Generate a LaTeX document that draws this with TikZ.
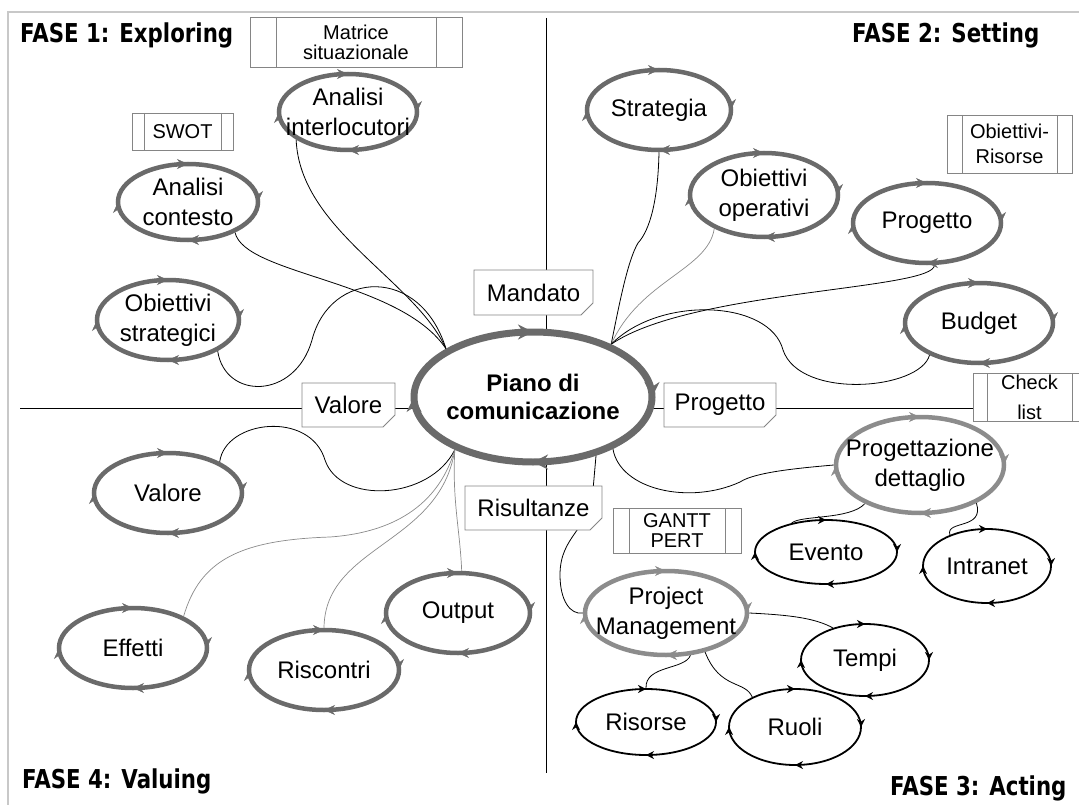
\documentclass[tikz,border=0pt]{standalone}
\usepackage{fontspec}
\setmainfont{Liberation Sans}
\newfontfamily\fasefont[FakeStretch=0.82]{DejaVu Sans}
\usetikzlibrary{shapes.geometric,shapes.misc,decorations.markings,arrows.meta,backgrounds}
\definecolor{ringgray}{HTML}{6A6A6A}
\definecolor{ringlight}{HTML}{8C8C8C}
\definecolor{linkgray}{HTML}{8A8A8A}
\definecolor{boxgray}{HTML}{858585}
\definecolor{framegray}{HTML}{C8C8C8}
\newcommand\lblfont{\fontsize{24}{30}\selectfont}
\newcommand\boxfont{\fontsize{20}{20}\selectfont}
\newcommand\fasesize{\fasefont\bfseries\fontsize{26}{28}\selectfont}
\begin{document}
\begin{tikzpicture}[x=1pt,y=-1pt,
    ringmarks/.style={postaction={decorate,decoration={markings,
        mark=at position 0 with {\arrowreversed{#1}},
        mark=at position 0.25 with {\arrowreversed{#1}},
        mark=at position 0.5 with {\arrowreversed{#1}},
        mark=at position 0.75 with {\arrowreversed{#1}}}}},
    dims/.style args={#1x#2}{minimum width=#1pt,minimum height=#2pt},
    ringbase/.style={ellipse,fill=white,inner sep=0pt},
    ring/.style={ringbase,draw=ringgray,line width=4.5pt,
        ringmarks={Stealth[length=11pt,width=10pt,line width=0.5pt]}},
    lightring/.style={ringbase,draw=ringlight,line width=4.5pt,
        ringmarks={Stealth[length=11pt,width=10pt,line width=0.5pt]}},
    thinring/.style={ringbase,draw=black,line width=1.8pt,
        ringmarks={Stealth[length=8pt,width=8pt,line width=0.5pt]}},
    mainring/.style={ringbase,draw=ringgray,line width=7pt,
        ringmarks={Stealth[length=15pt,width=15pt,line width=0.5pt]}},
    every label/.style={font=\lblfont,align=center,inner sep=0pt},
    notebox/.style={chamfered rectangle,chamfered rectangle corners=south east,
        chamfered rectangle sep=6pt,draw=boxgray,fill=white,line width=0.8pt,
        inner sep=0pt,font=\lblfont},
    procbox/.style={rectangle,draw=boxgray,fill=white,line width=0.8pt,inner sep=0pt,
        font=\boxfont,align=center,
        path picture={\draw[boxgray,line width=0.8pt]
          ([xshift=#1]path picture bounding box.north west) -- ([xshift=#1]path picture bounding box.south west)
          ([xshift=-#1]path picture bounding box.north east) -- ([xshift=-#1]path picture bounding box.south east);}},
    procbox/.default=14pt,
    link/.style={line width=0.8pt},
    greylink/.style={draw=linkgray,line width=0.7pt},
    fase/.style={font=\fasesize,anchor=base west,inner sep=0pt}]
  \useasboundingbox (0,0) rectangle (1079,805);

  \node[fase] (fase1) at (20,43) {FASE 1: Exploring};
  \node[fase] (fase2) at (852,43) {FASE 2: Setting};
  \node[fase] (fase3) at (890,795) {FASE 3: Acting};
  \node[fase] (fase4) at (22,788) {FASE 4: Valuing};

  \node[mainring,dims=238x130,
    label={[font=\fontsize{24}{28}\selectfont\bfseries]center:Piano di\\comunicazione}] (piano) at (533,397) {};

  \node[ring,dims=138x76,label={center:Analisi\\interlocutori}] (interloc) at (348,112) {};
  \node[ring,dims=140x76,label={center:Analisi\\contesto}] (contesto) at (188,202) {};
  \node[ring,dims=142x80,label={center:Obiettivi\\strategici}] (strategici) at (168,320) {};
  \node[ring,dims=144x80,label={center:Strategia}] (strategia) at (659,110) {};
  \node[ring,dims=148x84,label={center:Obiettivi\\operativi}] (operativi) at (764,195) {};
  \node[ring,dims=148x80,label={center:Progetto}] (progetto) at (927,223) {};
  \node[ring,dims=148x80,label={center:Budget}] (budget) at (979,323) {};
  \node[ring,dims=148x80,label={center:Valore}] (valore) at (168,493) {};
  \node[ring,dims=148x80,label={center:Effetti}] (effetti) at (133,648) {};
  \node[ring,dims=150x80,label={center:Riscontri}] (riscontri) at (324,670) {};
  \node[ring,dims=144x80,label={center:Output}] (output) at (458,613) {};
  \node[lightring,dims=168x96,label={center:Progettazione\\dettaglio}] (dettaglio) at (920,465) {};
  \node[lightring,dims=162x84,label={center:Project\\Management}] (pm) at (666,613) {};
  \node[thinring,dims=142x64,label={center:Evento}] (evento) at (826,552) {};
  \node[thinring,dims=128x74,label={center:Intranet}] (intranet) at (987,566) {};
  \node[thinring,dims=128x72,label={center:Tempi}] (tempi) at (865,660) {};
  \node[thinring,dims=140x66,label={center:Risorse}] (risorse) at (646,722) {};
  \node[thinring,dims=132x76,label={center:Ruoli}] (ruoli) at (795,727) {};

  \node[notebox,dims=119x45] (mandato) at (533.5,292.5) {Mandato};
  \node[notebox,dims=93x44] (valbox) at (348.5,405) {Valore};
  \node[notebox,dims=112x44] (progbox) at (720,405) {Progetto};
  \node[notebox,dims=137x44] (risbox) at (533.5,508) {Risultanze};
  \node[procbox=26pt,dims=212x50] (matrice) at (356,42) {Matrice\\situazionale};
  \node[procbox=12pt,dims=101x37] (swot) at (182.5,131.5) {SWOT};
  \node[procbox=15pt,dims=125x58] (obris) at (1009.5,144) {Obiettivi-\\[5pt]Risorse};
  \node[procbox=16pt,dims=128x45] (gantt) at (677,530.5) {GANTT\\PERT};
  \node[procbox=14pt,dims=113x48] (check) at (1029.5,397) {Check\\[10pt]list};

  \begin{scope}[on background layer]
    \draw[framegray,line width=1.5pt] (8,805) -- (8,12) -- (1079,12);
    \draw[line width=0.9pt] (546,18) -- (546,773);
    \draw[line width=0.9pt] (20,408) -- (973,408);

    \draw[link] (interloc.208) .. controls (300,230) and (415,280) .. (piano.151);
    \draw[link] (contesto.327) .. controls (245,275) and (400,280) .. (piano.151);
    \draw[link] (strategici.328) .. controls (225,400) and (295,400) .. (312,340)
      .. controls (330,270) and (420,265) .. (piano.151);
    \draw[link] (strategia.south) .. controls (658,200) and (650,230) .. (638,243)
      .. controls (628,260) and (620,300) .. (piano.34);
    \draw[greylink] (operativi.214) .. controls (708,270) and (640,280) .. (piano.34);
    \draw[link] (progetto.280) .. controls (935,290) and (690,290) .. (piano.34);
    \draw[link] (budget.213) .. controls (920,390) and (800,400) .. (783,350)
      .. controls (770,300) and (660,295) .. (piano.34);
    \draw[link] (valore.31) .. controls (225,420) and (310,410) .. (325,460)
      .. controls (340,505) and (430,500) .. (piano.214);
    \draw[greylink] (effetti.32) .. controls (200,560) and (240,540) .. (330,537)
      .. controls (400,532) and (440,500) .. (piano.214);
    \draw[greylink] (riscontri.north) .. controls (325,545) and (440,545) .. (piano.214);
    \draw[greylink] (output.85) .. controls (460,530) and (452,500) .. (piano.214);
    \draw[link] (piano.327) .. controls (620,490) and (690,505) .. (740,482)
      .. controls (755,472) and (800,468) .. (dettaglio.west);
    \draw[link] (piano.317) -- (593,490) .. controls (590,530) and (560,535) .. (560,575)
      .. controls (560,600) and (570,615) .. (pm.west);
    \draw[link] (dettaglio.215) .. controls (850,520) and (800,515) .. (evento.140);
    \draw[link] (dettaglio.326) .. controls (985,530) and (945,520) .. (intranet.140);
    \draw[link] (pm.east) .. controls (790,615) and (815,618) .. (tempi.135);
    \draw[link] (pm.300) .. controls (685,670) and (645,665) .. (risorse.north);
    \draw[link] (pm.315) .. controls (720,690) and (745,680) .. (ruoli.145);
  \end{scope}
\end{tikzpicture}
\end{document}
